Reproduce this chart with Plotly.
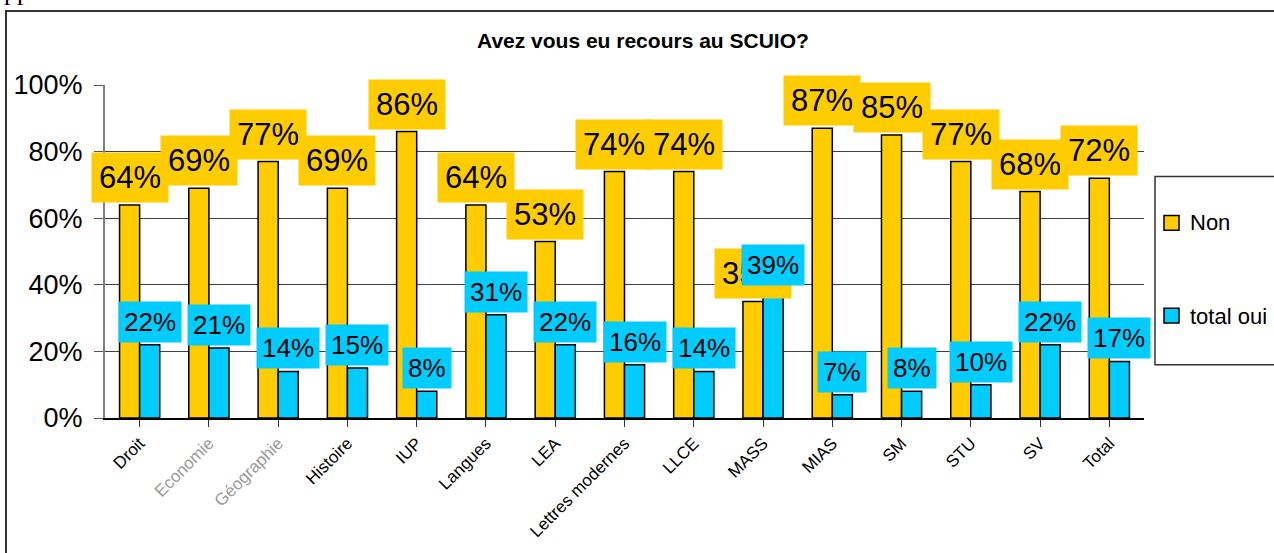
import plotly.graph_objects as go

# --- data -------------------------------------------------------------
categories = ["Droit", "Economie", "Géographie", "Histoire", "IUP", "Langues",
              "LEA", "Lettres modernes", "LLCE", "MASS", "MIAS", "SM", "STU",
              "SV", "Total"]
non_values = [64, 69, 77, 69, 86, 64, 53, 74, 74, 35, 87, 85, 77, 68, 72]
oui_values = [22, 21, 14, 15, 8, 31, 22, 16, 14, 39, 7, 8, 10, 22, 17]
series_names = ["Non", "total oui"]
y_ticks = [0, 20, 40, 60, 80, 100]
faded_labels = {"Economie", "Géographie"}

GOLD = "#FFCC00"
CYAN = "#00CCFF"

# --- page geometry (pixels) -------------------------------------------
W, H = 1274, 553
L, R, T, B = 105, 130, 85, 130
PW, PH = W - L - R, H - T - B
BARGAP = 0.42


def px(x):
    return (x - L) / PW


def py(y):
    return (H - B - y) / PH


tick_text = [
    f"<span style='color:#9a9a9a'>{c}</span>" if c in faded_labels else c
    for c in categories
]

fig = go.Figure()
for name, vals, col in [(series_names[0], non_values, GOLD),
                        (series_names[1], oui_values, CYAN)]:
    fig.add_trace(go.Bar(
        x=list(range(len(categories))), y=vals, name=name,
        marker=dict(color=col, line=dict(color="#000000", width=1.5)),
        showlegend=False,
    ))

# value labels sitting on top of each bar
half = (1 - BARGAP) / 4
annotations = []
for i, v in enumerate(non_values):
    annotations.append(dict(
        x=i - half, y=v, xref="x", yref="y", text=f"{v}%",
        showarrow=False, yanchor="bottom", yshift=2,
        font=dict(family="Liberation Sans, Arial", size=31, color="#000"),
        bgcolor=GOLD, borderpad=7,
    ))
for i, v in enumerate(oui_values):
    annotations.append(dict(
        x=i + half, y=v, xref="x", yref="y", text=f"{v}%",
        showarrow=False, yanchor="bottom", yshift=2,
        font=dict(family="Liberation Sans, Arial", size=26, color="#000"),
        bgcolor=CYAN, borderpad=5,
    ))

# title
annotations.append(dict(
    x=px(643), y=py(40), xref="paper", yref="paper",
    text="<b>Avez vous eu recours au SCUIO?</b>", showarrow=False,
    xanchor="center", yanchor="middle",
    font=dict(family="Liberation Sans, Arial", size=21, color="#000"),
))

# legend text
for name, yc in zip(series_names, [225, 320]):
    annotations.append(dict(
        x=px(1188), y=py(yc), xref="paper", yref="paper", text=name,
        showarrow=False, xanchor="left", yanchor="middle",
        font=dict(family="Liberation Sans, Arial", size=22, color="#000"),
    ))

# fragment of text from the surrounding page
annotations.append(dict(
    x=px(2), y=py(7), xref="paper", yref="paper", text="pp",
    showarrow=False, xanchor="left", yanchor="bottom",
    font=dict(family="Liberation Serif, Times New Roman", size=26, color="#000"),
))

shapes = [
    # chart frame
    dict(type="rect", xref="paper", yref="paper",
         x0=px(6), x1=px(1300), y0=py(580), y1=py(10),
         line=dict(color="#333333", width=2), layer="below"),
    # legend frame
    dict(type="rect", xref="paper", yref="paper",
         x0=px(1155), x1=px(1300), y0=py(369), y1=py(178),
         line=dict(color="#333333", width=1.5)),
]
for col, yc in zip([GOLD, CYAN], [225, 319]):
    shapes.append(dict(type="rect", xref="paper", yref="paper",
                       x0=px(1164), x1=px(1179), y0=py(yc + 7.5), y1=py(yc - 7.5),
                       fillcolor=col, line=dict(color="#000", width=1.5)))

fig.update_layout(
    width=W, height=H,
    margin=dict(l=L, r=R, t=T, b=B, pad=0),
    paper_bgcolor="white", plot_bgcolor="white",
    barmode="group", bargap=BARGAP, bargroupgap=0,
    annotations=annotations, shapes=shapes,
    font=dict(family="Liberation Sans, Arial", color="#000"),
    xaxis=dict(
        range=[-0.5, len(categories) - 0.5],
        tickmode="array", tickvals=list(range(len(categories))),
        ticktext=tick_text, tickangle=-45,
        tickfont=dict(size=17, color="#000"),
        showline=True, linecolor="#000", linewidth=1.5,
        ticks="outside", tickson="boundaries", ticklen=7,
        tickcolor="#333", showgrid=False,
    ),
    yaxis=dict(
        range=[0, 100], tickvals=y_ticks,
        ticktext=[f"{t}%" for t in y_ticks],
        tickfont=dict(size=27, color="#000"),
        showline=True, linecolor="#808080", linewidth=2,
        ticks="outside", ticklen=9, tickcolor="#555",
        ticklabelstandoff=6,
        showgrid=True, gridcolor="#404040", gridwidth=1,
        zeroline=False,
    ),
)

fig.write_html("out.html")
